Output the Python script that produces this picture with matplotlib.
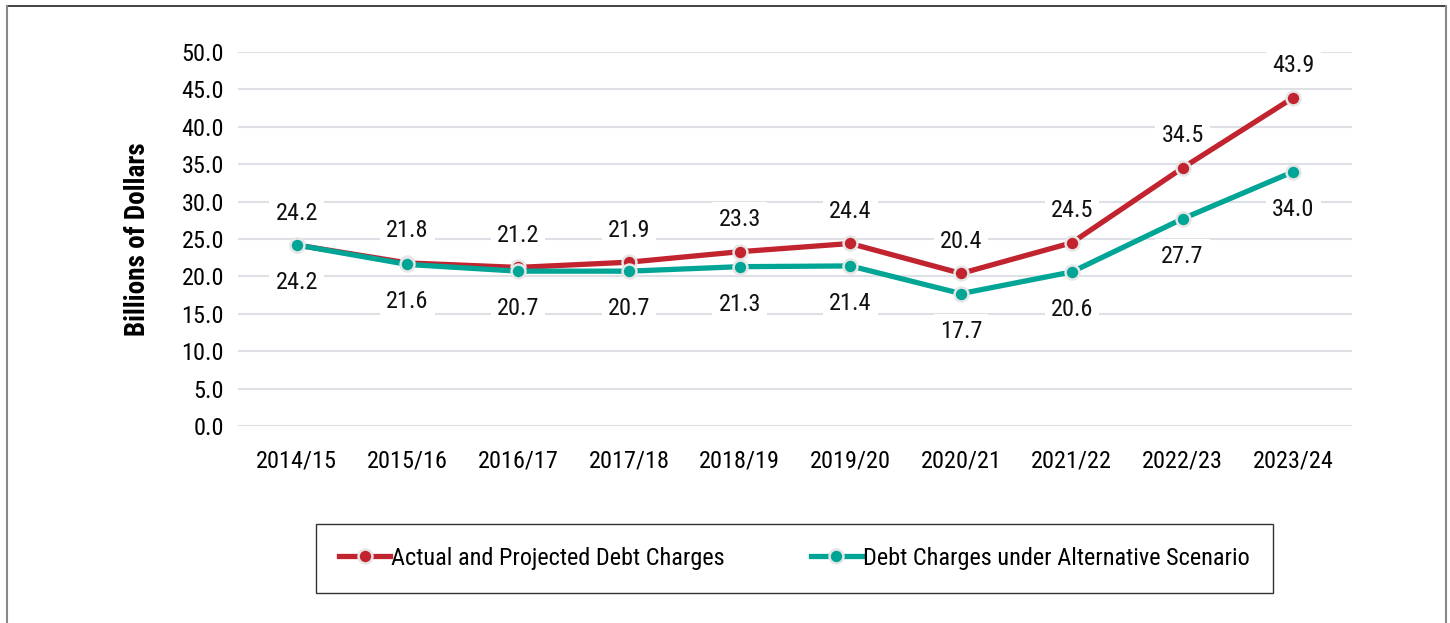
import matplotlib
matplotlib.use("Agg")
import matplotlib.pyplot as plt
from matplotlib.lines import Line2D
from matplotlib import font_manager

years = ["2014/15", "2015/16", "2016/17", "2017/18", "2018/19",
         "2019/20", "2020/21", "2021/22", "2022/23", "2023/24"]
actual = [24.2, 21.8, 21.2, 21.9, 23.3, 24.4, 20.4, 24.5, 34.5, 43.9]
alternative = [24.2, 21.6, 20.7, 20.7, 21.3, 21.4, 17.7, 20.6, 27.7, 34.0]
yticks = [0, 5, 10, 15, 20, 25, 30, 35, 40, 45, 50]
series_names = ["Actual and Projected Debt Charges",
                "Debt Charges under Alternative Scenario"]

names = {f.name for f in font_manager.fontManager.ttflist}
fam = "Liberation Sans"
for cand in ["Roboto Condensed", "Liberation Sans Narrow", "Open Sans Condensed",
             "Noto Sans Condensed", "DejaVu Sans Condensed"]:
    if cand in names:
        fam = cand
        break
plt.rcParams["font.family"] = [fam, "DejaVu Sans"]

RED = "#C1232F"
TEAL = "#00A596"
FS = 17.5

fig = plt.figure(figsize=(14.5, 6.23), dpi=100)
ax = fig.add_axes([238/1450, 1-426/623, (1352-238)/1450, (426-52)/623])

x = list(range(len(years)))
ax.plot(x, actual, color=RED, lw=3.8, marker="o", ms=10,
        mfc=RED, mec="#e6e6e6", mew=1.8, zorder=4, label=series_names[0])
ax.plot(x, alternative, color=TEAL, lw=3.8, marker="o", ms=10,
        mfc=TEAL, mec="#e6e6e6", mew=1.8, zorder=5, label=series_names[1])

for xi, v in zip(x, actual):
    ax.annotate(f"{v:.1f}", (xi, v), xytext=(0, 23), textcoords="offset points",
                ha="center", va="center", fontsize=FS, color="#111111",
                bbox=dict(boxstyle="square,pad=0.25", fc="white", ec="none"), zorder=3)
for xi, v in zip(x, alternative):
    ax.annotate(f"{v:.1f}", (xi, v), xytext=(0, -27), textcoords="offset points",
                ha="center", va="center", fontsize=FS, color="#111111",
                bbox=dict(boxstyle="square,pad=0.25", fc="white", ec="none"), zorder=3)

ax.set_xlim(-0.53, len(years) - 1 + 0.53)
ax.set_ylim(0, 50)
ax.set_yticks(yticks)
ax.set_yticklabels([f"{t:.1f}" for t in yticks], fontsize=FS)
ax.set_xticks(x)
ax.set_xticklabels(years, fontsize=FS)
ax.tick_params(axis="y", length=0, pad=10)
ax.tick_params(axis="x", length=0, pad=17)
ax.yaxis.grid(True, color="#dde1e6", lw=1.5, zorder=0)
ax.set_axisbelow(True)
for s in ax.spines.values():
    s.set_visible(False)
ax.set_ylabel("Billions of Dollars", fontsize=FS + 2, fontweight="bold", labelpad=22)

handles = [Line2D([], [], color=RED, lw=3.8, marker="o", ms=10, mfc=RED, mec="#e6e6e6", mew=1.8),
           Line2D([], [], color=TEAL, lw=3.8, marker="o", ms=10, mfc=TEAL, mec="#e6e6e6", mew=1.8)]
leg = fig.legend(handles, series_names, loc="center", mode="expand",
                 bbox_to_anchor=(316/1450, 1-594/623, 957/1450, 71/623),
                 ncol=2, fontsize=FS, frameon=True, fancybox=False,
                 handlelength=2.1, handletextpad=0.05, columnspacing=3.2,
                 borderpad=0.95, borderaxespad=0)
leg.get_frame().set_edgecolor("black")
leg.get_frame().set_linewidth(1.0)

# outer border (top, left, right)
fig.add_artist(Line2D([7/1450, 1446/1450], [1-5.5/623, 1-5.5/623], transform=fig.transFigure, color="#222222", lw=1.2))
fig.add_artist(Line2D([7/1450, 7/1450], [0, 1-5.5/623], transform=fig.transFigure, color="#888888", lw=1.5))
fig.add_artist(Line2D([1446/1450, 1446/1450], [0, 1-5.5/623], transform=fig.transFigure, color="#888888", lw=1.5))

fig.savefig("out.png", dpi=100)
